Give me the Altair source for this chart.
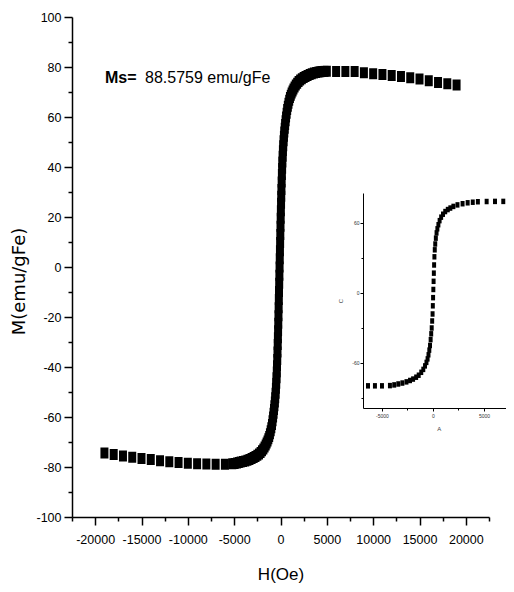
import altair as alt
import pandas as pd

# ---------------- main loop data (H in Oe, M in emu/gFe) ----------------
H_left_sparse = [-19000, -18000, -17000, -16000, -15000, -14000, -13000,
                 -12000, -11000, -10000, -9000, -8000, -7000, -6000]
M_left_sparse = [-74.4, -75.0, -75.6, -76.1, -76.6, -77.0, -77.5,
                 -77.9, -78.2, -78.5, -78.7, -78.8, -78.9, -78.9]

H_neg_dense = [-5200, -4950, -4700, -4500, -4300, -4050, -3800, -3570, -3350, -3120,
               -2900, -2700, -2500, -2320, -2150, -2000, -1850, -1720, -1600, -1500,
               -1400, -1310, -1220, -1140, -1060, -990, -920, -860, -800, -750,
               -700, -655, -610, -570, -530, -495, -460, -430, -400, -375,
               -350, -325, -300, -280, -260, -240, -220, -200, -180, -160,
               -140, -120]
M_neg_dense = [-78.7, -78.6, -78.4, -78.2, -78.0, -77.8, -77.6, -77.3, -77.0, -76.6,
               -76.2, -75.8, -75.3, -74.8, -74.2, -73.5, -72.8, -72.0, -71.2, -70.4,
               -69.6, -68.7, -67.8, -66.7, -65.5, -64.3, -63.0, -61.5, -60.0, -58.5,
               -57.0, -55.5, -54.0, -52.3, -50.5, -48.5, -46.5, -44.3, -42.0, -39.5,
               -37.0, -34.0, -31.0, -28.3, -25.5, -22.5, -19.5, -16.3, -13.0, -9.8,
               -6.5, -3.3]

H_pos_dense = [-100, -80, -60, -40, -20, 0, 20, 40, 60, 80,
               100, 125, 150, 175, 200, 230, 260, 295, 330, 370,
               410, 455, 500, 550, 600, 660, 720, 790, 860, 940,
               1020, 1110, 1200, 1300, 1400, 1520, 1650, 1800, 1950, 2120,
               2300, 2500, 2700, 2920, 3150, 3370, 3600, 3850, 4100, 4300,
               4500, 4750, 5000]
M_pos_dense = [0.0, 3.3, 6.5, 9.8, 13.0, 16.3, 19.5, 22.5, 25.5, 28.3,
               31.0, 34.0, 37.0, 39.5, 42.0, 44.3, 46.5, 48.5, 50.5, 52.3,
               54.0, 55.5, 57.0, 58.5, 60.0, 61.5, 63.0, 64.3, 65.5, 66.7,
               67.8, 68.7, 69.6, 70.4, 71.2, 72.0, 72.8, 73.5, 74.2, 74.8,
               75.3, 75.8, 76.2, 76.6, 77.0, 77.3, 77.6, 77.8, 78.0, 78.1,
               78.2, 78.25, 78.3]

H_right_sparse = [6000, 7000, 8000, 9000, 10000, 11000, 12000,
                  13000, 14000, 15000, 16000, 17000, 18000, 19000]
M_right_sparse = [78.2, 78.2, 78.2, 77.7, 77.3, 77.0, 76.6,
                  76.2, 75.7, 75.2, 74.5, 73.8, 73.3, 72.8]

# ---------------- inset data ----------------
Hi_left = [-6370, -5690, -5000, -4220]
Mi_left = [-79.6, -79.6, -79.6, -79.4]
Hi_dense = [-3800, -3400, -3000, -2600, -2250, -1950, -1650, -1400, -1150, -950,
            -780, -640, -530, -440, -360, -290, -230, -175, -125, -80,
            -40, -15, 10, 35, 60, 85, 110, 140, 175, 220,
            280, 350, 430, 530, 650, 800, 980, 1200, 1450, 1700,
            2000, 2400, 2900, 3400, 3900, 4400]
Mi_dense = [-78.8, -78.0, -77.2, -76.2, -75.0, -73.8, -72.2, -70.5, -68.0, -65.5,
            -62.5, -59.5, -56.5, -53.0, -49.0, -45.0, -40.0, -35.0, -30.0, -24.0,
            -18.0, -11.0, -4.0, 3.0, 10.0, 17.0, 24.0, 31.0, 37.0, 42.0,
            47.0, 51.5, 55.0, 58.5, 62.0, 65.0, 67.5, 69.8, 71.5, 72.8,
            74.2, 75.5, 76.5, 77.3, 77.8, 78.2]
Hi_right = [5260, 6080, 6890, 7710]
Mi_right = [78.4, 78.5, 78.5, 78.5]

# ---------------- axes ----------------
x_ticks = [-22500, -20000, -17500, -15000, -12500, -10000, -7500, -5000, -2500, 0,
           2500, 5000, 7500, 10000, 12500, 15000, 17500, 20000, 22500]
y_ticks = [-100, -90, -80, -70, -60, -50, -40, -30, -20, -10, 0,
           10, 20, 30, 40, 50, 60, 70, 80, 90, 100]
xi_ticks = [-5000, -2500, 0, 2500, 5000, 7500]
yi_ticks = [-90, -60, -30, 0, 30, 60]

ann_text = ["Ms=", "88.5759 emu/gFe"]
ann_H = [-18940, -14620]
ann_M = [73.5, 73.5]

main_df = pd.DataFrame({
    "H": H_left_sparse + H_neg_dense + H_pos_dense + H_right_sparse,
    "M": M_left_sparse + M_neg_dense + M_pos_dense + M_right_sparse,
})
inset_df = pd.DataFrame({
    "Hi": Hi_left + Hi_dense + Hi_right,
    "Mi": Mi_left + Mi_dense + Mi_right,
})

FONT = "Liberation Sans, Arial"
square = "M-0.727,-1L0.727,-1L0.727,1L-0.727,1Z"

xs = alt.Scale(domain=[-22500, 22500], nice=False, zero=False)
ys = alt.Scale(domain=[-100, 100], nice=False, zero=False)

x_axis = alt.Axis(
    values=x_ticks, grid=False, labelOverlap=False, labelFlush=False, labelBound=False,
    labelExpr="datum.value % 5000 === 0 ? '' + datum.value : ''",
    tickSize={"condition": {"test": "datum.value % 5000 === 0", "value": 8}, "value": 4},
    tickColor="black", tickWidth=1.5, domainColor="black", domainWidth=1.5,
    labelFont=FONT, labelFontSize=12.5, labelColor="black", labelPadding=8,
    title="H(Oe)", titleFont=FONT, titleFontSize=17, titleFontWeight="normal",
    titleColor="black", titlePadding=21,
)
y_axis = alt.Axis(
    values=y_ticks, grid=False, labelOverlap=False, labelFlush=False, labelBound=False,
    labelExpr="datum.value % 20 === 0 ? '' + datum.value : ''",
    tickSize={"condition": {"test": "datum.value % 20 === 0", "value": 8}, "value": 4},
    tickColor="black", tickWidth=1.5, domainColor="black", domainWidth=1.5,
    labelFont=FONT, labelFontSize=12.5, labelColor="black", labelPadding=3,
    title="M(emu/gFe)", titleFont="DejaVu Sans", titleFontSize=18, titleFontWeight="normal",
    titleColor="black", titlePadding=7, titleY=264,
)

main = alt.Chart(main_df).mark_point(
    shape=square, size=121, filled=True, color="black", opacity=1, strokeWidth=0
).encode(
    x=alt.X("H:Q", scale=xs, axis=x_axis),
    y=alt.Y("M:Q", scale=ys, axis=y_axis),
)

ann_df = pd.DataFrame({"H": ann_H, "M": ann_M, "t": ann_text})
ann1 = alt.Chart(ann_df.iloc[:1]).mark_text(
    align="left", baseline="alphabetic", font=FONT, fontSize=16, fontWeight="bold", color="black"
).encode(x=alt.X("H:Q", scale=xs, axis=None), y=alt.Y("M:Q", scale=ys, axis=None), text="t:N")
ann2 = alt.Chart(ann_df.iloc[1:]).mark_text(
    align="left", baseline="alphabetic", font=FONT, fontSize=16, fontWeight="normal", color="black"
).encode(x=alt.X("H:Q", scale=xs, axis=None), y=alt.Y("M:Q", scale=ys, axis=None), text="t:N")

xi_axis = alt.Axis(
    orient="bottom", offset=-109, values=xi_ticks, grid=False, labelOverlap=False,
    labelFlush=False, labelBound=False,
    labelExpr="datum.value % 5000 === 0 ? '' + datum.value : ''",
    tickSize={"condition": {"test": "datum.value % 5000 === 0", "value": 3}, "value": 2},
    tickColor="black", tickWidth=1, domainColor="black", domainWidth=1,
    labelFont=FONT, labelFontSize=5, labelColor="#333333", labelPadding=2,
    title="A", titleFont=FONT, titleFontSize=6, titleFontWeight="normal",
    titleColor="#444444", titlePadding=7,
)
yi_axis = alt.Axis(
    orient="left", offset=-291, values=yi_ticks, grid=False, labelOverlap=False,
    labelFlush=False, labelBound=False,
    labelExpr="datum.value % 60 === 0 ? '' + datum.value : ''",
    tickSize={"condition": {"test": "datum.value % 60 === 0", "value": 3}, "value": 2},
    tickColor="black", tickWidth=1, domainColor="black", domainWidth=1,
    labelFont=FONT, labelFontSize=5, labelColor="#333333", labelPadding=1,
    title="C", titleFont=FONT, titleFontSize=6, titleFontWeight="normal",
    titleColor="#444444", titlePadding=8,
)

inset = alt.Chart(inset_df).mark_point(
    shape=square, size=30, filled=True, color="black", opacity=1, strokeWidth=0
).encode(
    x=alt.X("Hi:Q", scale=alt.Scale(domain=[-6860, 8000], range=[291, 442.6], nice=False, zero=False), axis=xi_axis),
    y=alt.Y("Mi:Q", scale=alt.Scale(domain=[-98.6, 85.7], range=[391, 176], nice=False, zero=False), axis=yi_axis),
)

chart = alt.layer(main, ann1, ann2, inset).resolve_scale(
    x="independent", y="independent"
).properties(
    width=417, height=500,
    autosize=alt.AutoSizeParams(type="none"),
    padding={"left": 64, "top": 9, "right": 17, "bottom": 67},
).configure_view(stroke=None)

chart.save("out.html", embed_options={"renderer": "svg", "actions": False})
